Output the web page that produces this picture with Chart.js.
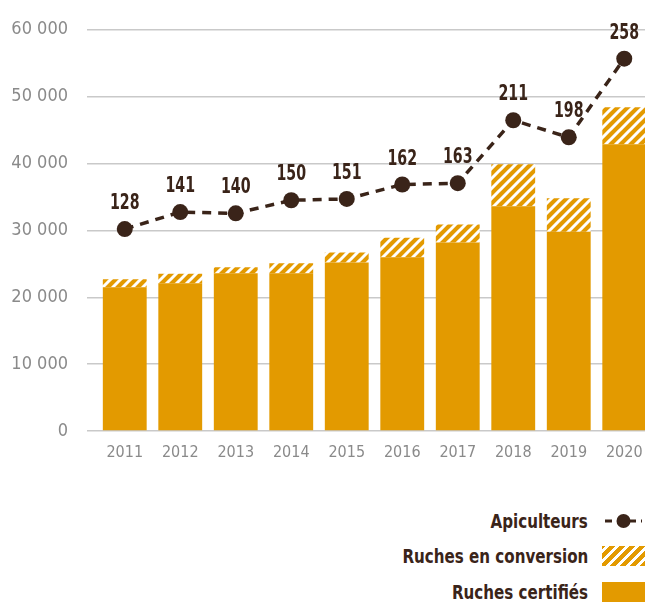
<!DOCTYPE html>
<html lang="fr">
<head>
  <meta charset="UTF-8">
  <title>Apiculture bio</title>
  <script src="https://cdn.jsdelivr.net/npm/chart.js"></script>
  <style>
    html, body { margin: 0; padding: 0; background: #fff; overflow: hidden; }
    body { width: 645px; height: 605px; position: relative; }
    .chart-box { position: absolute; left: 0; top: 0; width: 660px; height: 469px; }
    .legend { position: absolute; right: 0; top: 503px; width: 645px;
      font-family: 'DejaVu Sans Condensed', sans-serif;
      font-weight: bold; font-size: 20px; color: #3a2419; }
    .legend-row { display: flex; justify-content: flex-end; align-items: center; height: 35.5px; }
    .legend-row span { margin-right: 14px; display: inline-block; transform: scaleX(0.84); transform-origin: right center; }
    .swatch { width: 43px; height: 20px; }
    .hatch { background: repeating-linear-gradient(-45deg, #e39a00 0 4px, #fff 4px 7px); }
    .solid { background: #e39a00; }
  </style>
</head>
<body>
  <div class="chart-box"><canvas id="chart" width="660" height="469"></canvas></div>
  <div class="legend">
    <div class="legend-row"><span>Apiculteurs</span>
      <svg class="swatch" viewBox="0 0 43 20"><line x1="3" y1="10" x2="40" y2="10" stroke="#3a2419" stroke-width="3" stroke-dasharray="7 5"/><circle cx="21.5" cy="10" r="7" fill="#3a2419"/></svg>
    </div>
    <div class="legend-row"><span>Ruches en conversion</span><div class="swatch hatch"></div></div>
    <div class="legend-row"><span>Ruches certifiés</span><div class="swatch solid"></div></div>
  </div>

  <script>
    const years = ['2011', '2012', '2013', '2014', '2015', '2016', '2017', '2018', '2019', '2020'];
    const ruchesCertifiees = [21500, 22100, 23600, 23600, 25200, 26000, 28200, 33600, 29800, 42900];
    const ruchesConversion = [1200, 1400, 900, 1500, 1500, 2900, 2700, 6300, 5000, 5500];
    const apiculteurs = [128, 141, 140, 150, 151, 162, 163, 211, 198, 258];
    const yTicks = [0, 10000, 20000, 30000, 40000, 50000, 60000];

    const orange = '#e39a00';
    const brown = '#3a2419';
    const fontFamily = "'DejaVu Sans Condensed', sans-serif";

    // hatch pattern for conversion bars
    function makeHatch() {
      const c = document.createElement('canvas');
      c.width = 10; c.height = 10;
      const p = c.getContext('2d');
      p.fillStyle = orange;
      p.fillRect(0, 0, 10, 10);
      p.strokeStyle = '#fff';
      p.lineWidth = 3;
      p.beginPath();
      p.moveTo(0, 10); p.lineTo(10, 0);
      p.moveTo(-5, 5); p.lineTo(5, -5);
      p.moveTo(5, 15); p.lineTo(15, 5);
      p.stroke();
      return p.createPattern(c, 'repeat');
    }

    // value labels above the points (squeezed to look like a narrow font)
    const pointLabels = {
      id: 'pointLabels',
      afterDatasetsDraw(chart) {
        const ctx = chart.ctx;
        const meta = chart.getDatasetMeta(2);
        ctx.save();
        ctx.fillStyle = brown;
        ctx.font = 'bold 21px ' + fontFamily;
        ctx.textAlign = 'center';
        ctx.textBaseline = 'alphabetic';
        meta.data.forEach((pt, i) => {
          ctx.save();
          ctx.translate(pt.x, pt.y - 20);
          ctx.scale(0.75, 1);
          ctx.fillText(apiculteurs[i], 0, 0);
          ctx.restore();
        });
        ctx.restore();
      }
    };

    const ctx = document.getElementById('chart').getContext('2d');
    new Chart(ctx, {
      type: 'bar',
      data: {
        labels: years,
        datasets: [
          {
            label: 'Ruches certifiés',
            data: ruchesCertifiees,
            backgroundColor: orange,
            categoryPercentage: 1,
            barPercentage: 0.79,
            order: 2
          },
          {
            label: 'Ruches en conversion',
            data: ruchesConversion,
            backgroundColor: makeHatch(),
            categoryPercentage: 1,
            barPercentage: 0.79,
            order: 2
          },
          {
            type: 'line',
            label: 'Apiculteurs',
            data: apiculteurs,
            yAxisID: 'y2',
            borderColor: brown,
            borderWidth: 3.5,
            borderDash: [9, 7],
            pointRadius: 8,
            pointBackgroundColor: brown,
            pointBorderWidth: 0,
            tension: 0,
            order: 1
          }
        ]
      },
      options: {
        responsive: false,
        animation: false,
        layout: { padding: { top: 28, right: 8, bottom: 0, left: 0 } },
        plugins: { legend: { display: false }, tooltip: { enabled: false } },
        scales: {
          x: {
            stacked: true,
            afterFit(scale) { scale.height = 38; },
            grid: { display: false },
            border: { display: false },
            ticks: { color: '#8a8a8a', font: { family: fontFamily, size: 16 }, padding: 4 }
          },
          y: {
            stacked: true,
            min: 0,
            max: 60000,
            afterFit(scale) { scale.width = 97; },
            afterBuildTicks(scale) { scale.ticks = yTicks.map(v => ({ value: v })); },
            grid: { color: '#c9c9c9', lineWidth: 1.5, tickLength: 10 },
            border: { display: false },
            ticks: {
              color: '#8a8a8a',
              font: { family: fontFamily, size: 18 },
              padding: 19,
              callback: v => v === 0 ? '0' : String(v).replace(/\B(?=(\d{3})+(?!\d))/g, ' ')
            }
          },
          y2: {
            display: false,
            min: -26,
            max: 280
          }
        }
      },
      plugins: [pointLabels]
    });
  </script>
</body>
</html>
